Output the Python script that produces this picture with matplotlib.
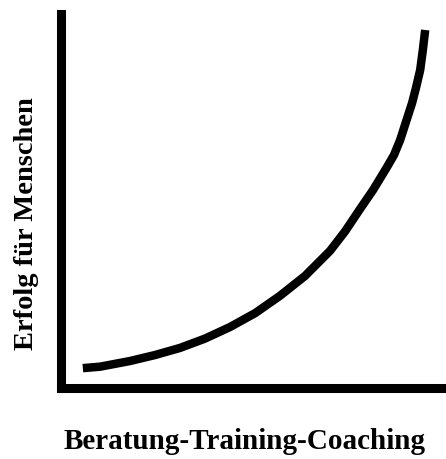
import matplotlib
matplotlib.use('Agg')
import matplotlib.pyplot as plt

# curve (axes units, 0..100)
x_vals = [5.8, 10.3, 18.0, 24.5, 31.0, 37.5, 44.0, 50.5, 56.9, 63.4, 69.9, 73.8,
          77.7, 81.1, 84.7, 86.5, 88.1, 89.1, 90.1, 91.2, 92.2, 93.3, 94.0, 94.6]
y_vals = [5.3, 5.7, 7.2, 8.8, 10.7, 13.2, 16.3, 20.0, 24.6, 29.9, 36.6, 41.8,
          47.8, 52.9, 59.0, 62.2, 66.2, 69.4, 72.6, 76.1, 80.1, 84.9, 90.3, 95.6]

x_label = 'Beratung-Training-Coaching'
y_label = 'Erfolg für Menschen'

W, H = 446, 459
fig = plt.figure(figsize=(W / 100, H / 100), dpi=100)
ax = fig.add_axes([60.5 / W, (H - 388) / H, (W - 60.5) / W, (388 - 13.5) / H])

ax.plot(x_vals, y_vals, color='black', lw=6.1, solid_capstyle='butt', solid_joinstyle='round')
ax.set_xlim(0, 100)
ax.set_ylim(0, 100)

for side in ['top', 'right']:
    ax.spines[side].set_visible(False)
for side in ['left', 'bottom']:
    ax.spines[side].set_linewidth(6.5)
    ax.spines[side].set_capstyle('projecting')
ax.set_xticks([])
ax.set_yticks([])

font = dict(family='Liberation Serif', weight='bold', color='black')
fig.text(244.5 / W, 1 - 449 / H, x_label, ha='center', va='baseline', fontsize=21, **font)
fig.text(33 / W, 1 - 223.5 / H, y_label, ha='center', va='baseline', rotation=90,
         rotation_mode='anchor', fontsize=20.5, **font)

fig.savefig('out.png', dpi=100)
